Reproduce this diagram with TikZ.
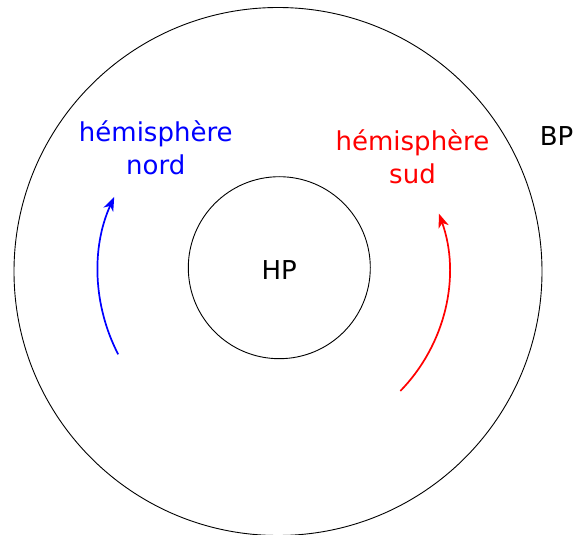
\documentclass[tikz,border=0pt]{standalone}
\usepackage{fontspec}
\setmainfont{DejaVu Sans}
\usetikzlibrary{arrows.meta,calc}
\definecolor{pureblue}{RGB}{0,0,255}
\definecolor{purered}{RGB}{255,0,0}
\tikzset{
  ring/.style={circle, draw=black, line width=0.9pt, inner sep=0pt},
  lbl/.style={inner sep=0pt, font=\fontsize{26}{33.3}\selectfont, align=center, anchor=base},
  flow/.style={line width=1.7pt, -{Stealth[length=14pt,width=10.5pt,inset=4pt]}}
}
\begin{document}
\begin{tikzpicture}[x=1pt,y=1pt]
\useasboundingbox (0,0) rectangle (574,-535);
\coordinate (C) at (278,-271.5);
\node[ring, minimum size=528pt] (outer) at (C) {};
\node[ring, minimum size=182pt] (inner) at (279.3,-267.7) {};
\node[inner sep=0pt, font=\fontsize{26}{33.3}\selectfont] (hp) at (279.2,-270.4) {HP};
\node[lbl, anchor=base east] (bp) at (573.6,-146) {BP};
\node[lbl, text=pureblue] (nord) at (155.8,-175) {hémisphère\\nord};
\node[lbl, text=purered] (sud) at (412.5,-184) {hémisphère\\sud};
\coordinate (bs) at ($(C)+(207.4:180)$);
\coordinate (rs) at ($(C)+(-44.3:171)$);
\draw[flow, pureblue] (bs) arc[start angle=207.4, end angle=155.5, radius=180];
\draw[flow, purered] (rs) arc[start angle=-44.3, end angle=19.8, radius=171];
\end{tikzpicture}
\end{document}
